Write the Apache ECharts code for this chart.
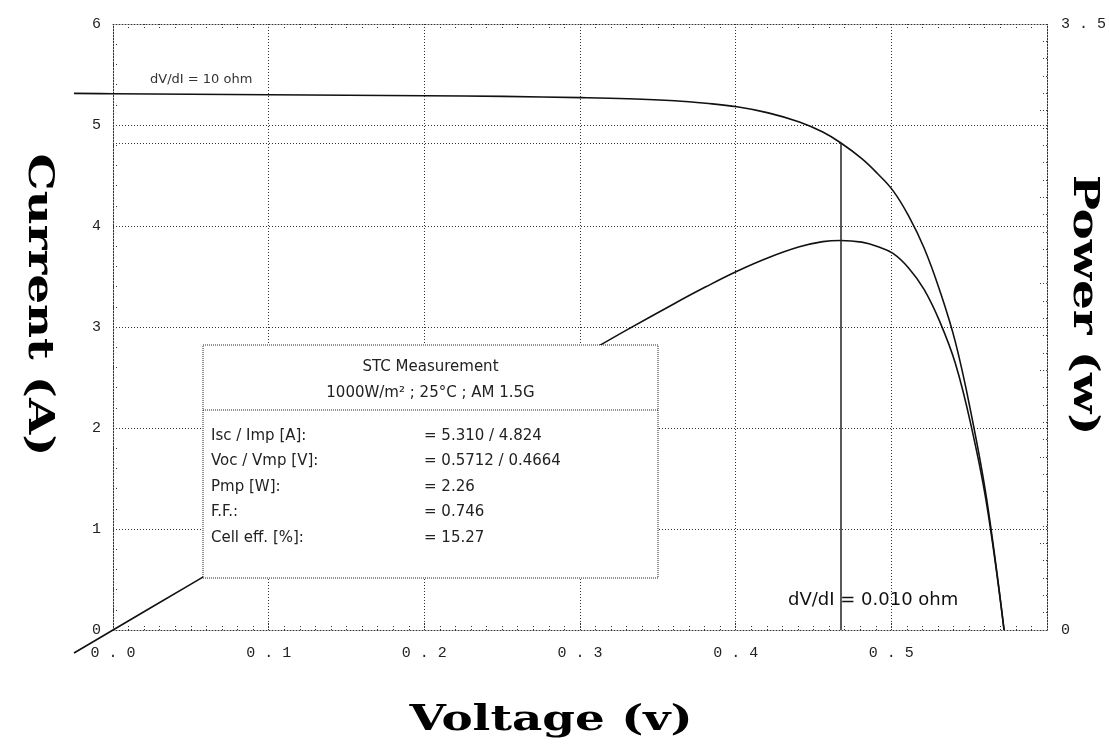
<!DOCTYPE html>
<html>
<head>
<meta charset="utf-8">
<script src="https://cdn.jsdelivr.net/npm/echarts@6/dist/echarts.min.js"></script>
<style>
html, body { margin: 0; background: #fff; }
#chart { width: 1109px; height: 750px; }
</style>
</head>
<body>
<div id="chart"></div>
<script>
// (V, A, W)
const voltage = [-0.025, 0, 0.05, 0.1, 0.15, 0.2, 0.25, 0.3, 0.33, 0.36, 0.38, 0.4, 0.42, 0.44, 0.455, 0.4664, 0.48, 0.49, 0.5, 0.51, 0.52, 0.53, 0.54, 0.55, 0.56, 0.5712]
const current = [5.313, 5.31, 5.305, 5.3, 5.295, 5.289, 5.283, 5.271, 5.26, 5.24, 5.215, 5.18, 5.12, 5.03, 4.93, 4.824, 4.667, 4.52, 4.35, 4.1, 3.78, 3.36, 2.85, 2.15, 1.3, 0]
const power = [-0.133, 0, 0.265, 0.53, 0.794, 1.058, 1.321, 1.581, 1.736, 1.886, 1.982, 2.072, 2.15, 2.213, 2.243, 2.25, 2.24, 2.215, 2.175, 2.091, 1.966, 1.781, 1.539, 1.183, 0.728, 0]

const vmp = 0.4664
const imp = 4.824

const boxHeader = ['STC Measurement', '1000W/m\u00b2 ; 25\u00b0C ; AM 1.5G']
const boxLabels = ['Isc / Imp [A]:', 'Voc / Vmp [V]:', 'Pmp [W]:', 'F.F.:', 'Cell eff. [%]:']
const boxValues = ['= 5.310 / 4.824', '= 0.5712 / 0.4664', '= 2.26', '= 0.746', '= 15.27']

const spaced = s => s.split('').join(' ')
const monoFont = 'Liberation Mono'
const boxFont = '15px "DejaVu Sans"'
const titleFont = 'bold 36px "DejaVu Serif"'
const dotted = { color: '#333', type: [1, 2], width: 1 }

const ivData = voltage.map((v, i) => [v, current[i]])
const pvData = voltage.map((v, i) => [v, power[i]])

// frame grid: 0..0.6 V, 0..6 A, 0..3.5 W
const gLeft = 113
const gRight = 60
const gTop = 24
const gBottom = 120
const pxPerVolt = (1109 - gLeft - gRight) / 0.6
const pxPerWatt = (750 - gTop - gBottom) / 3.5
// data grid: same scale, a little room left of 0 V and below 0 W so the curves run past the frame
const vStart = -0.025
const wStart = -0.5

const boxX = 203
const boxY = 345
const boxW = 455
const boxH = 233

const graphics = [
    {
        type: 'rect',
        z: 100,
        shape: { x: boxX, y: boxY, width: boxW, height: boxH },
        style: { fill: '#fff', stroke: '#222', lineWidth: 1, lineDash: [1, 1] },
    },
    {
        type: 'line',
        z: 101,
        shape: { x1: boxX, y1: boxY + 65, x2: boxX + boxW, y2: boxY + 65 },
        style: { stroke: '#222', lineWidth: 1, lineDash: [1, 1] },
    },
]
boxHeader.forEach((t, i) => {
    graphics.push({
        type: 'text',
        z: 101,
        x: boxX + boxW / 2,
        y: boxY + 22 + i * 26,
        style: { text: t, font: boxFont, fill: '#222', align: 'center', verticalAlign: 'middle' },
    })
})
boxLabels.forEach((t, i) => {
    const y = boxY + 91 + i * 25.5
    graphics.push({
        type: 'text',
        z: 101,
        x: boxX + 8,
        y,
        style: { text: t, font: boxFont, fill: '#222', verticalAlign: 'middle' },
    })
    graphics.push({
        type: 'text',
        z: 101,
        x: boxX + 221,
        y,
        style: { text: boxValues[i], font: boxFont, fill: '#222', verticalAlign: 'middle' },
    })
})
// free labels and axis titles
graphics.push(
    {
        type: 'text', z: 50, x: 150, y: 80,
        style: { text: 'dV/dI = 10 ohm', font: '13px "DejaVu Sans"', fill: '#333', verticalAlign: 'middle' },
    },
    {
        type: 'text', z: 50, x: 788, y: 600,
        style: { text: 'dV/dI = 0.010 ohm', font: '18px "DejaVu Sans"', fill: '#111', verticalAlign: 'middle' },
    },
    {
        type: 'text', x: 38, y: 305, rotation: -Math.PI / 2, scaleX: 1.3,
        style: { text: 'Current (A)', font: titleFont, fill: '#000', align: 'center', verticalAlign: 'middle' },
    },
    {
        type: 'text', x: 1083, y: 305, rotation: -Math.PI / 2, scaleX: 1.3,
        style: { text: 'Power (w)', font: titleFont, fill: '#000', align: 'center', verticalAlign: 'middle' },
    },
    {
        type: 'text', x: 551, y: 721, scaleX: 1.3,
        style: { text: 'Voltage (v)', font: titleFont, fill: '#000', align: 'center', verticalAlign: 'middle' },
    }
)

const frameTicks = {
    axisLine: { show: true, onZero: false, lineStyle: dotted },
    axisTick: { show: true, inside: true, length: 8, lineStyle: dotted },
}

const curveStyle = {
    type: 'line',
    xAxisIndex: 2,
    showSymbol: false,
    smooth: 0.4,
    lineStyle: { color: '#111', width: 1.6 },
}

const option = {
    animation: false,
    backgroundColor: '#fff',
    grid: [
        { left: gLeft, right: gRight, top: gTop, bottom: gBottom },
        {
            left: gLeft + vStart * pxPerVolt,
            right: gRight,
            top: gTop,
            bottom: gBottom + wStart * pxPerWatt,
        },
    ],
    xAxis: [
        {
            type: 'value',
            gridIndex: 0,
            min: 0,
            max: 0.6,
            interval: 0.1,
            position: 'bottom',
            ...frameTicks,
            minorTick: { show: true, splitNumber: 10, length: 5, lineStyle: dotted },
            splitLine: { show: true, lineStyle: dotted },
            axisLabel: {
                margin: 16,
                fontFamily: monoFont,
                fontSize: 15,
                color: '#222',
                formatter: v => (v <= 0.5 ? spaced(v.toFixed(1)) : ''),
            },
        },
        {
            type: 'value',
            gridIndex: 0,
            min: 0,
            max: 0.6,
            interval: 0.1,
            position: 'top',
            ...frameTicks,
            minorTick: { show: true, splitNumber: 10, length: 5, lineStyle: dotted },
            splitLine: { show: false },
            axisLabel: { show: false },
        },
        { type: 'value', gridIndex: 1, min: vStart, max: 0.6, show: false },
    ],
    yAxis: [
        {
            type: 'value',
            gridIndex: 0,
            min: 0,
            max: 6,
            interval: 1,
            position: 'left',
            ...frameTicks,
            minorTick: { show: true, splitNumber: 5, length: 5, lineStyle: dotted },
            splitLine: { show: true, lineStyle: dotted },
            axisLabel: { margin: 12, fontFamily: monoFont, fontSize: 15, color: '#222' },
        },
        {
            type: 'value',
            gridIndex: 0,
            min: 0,
            max: 3.5,
            interval: 0.5,
            position: 'right',
            ...frameTicks,
            minorTick: { show: true, splitNumber: 5, length: 5, lineStyle: dotted },
            splitLine: { show: false },
            axisLabel: {
                margin: 14,
                fontFamily: monoFont,
                fontSize: 15,
                color: '#222',
                formatter: v => (v === 0 ? '0' : v === 3.5 ? spaced('3.5') : ''),
            },
        },
        { type: 'value', gridIndex: 1, min: (wStart * 6) / 3.5, max: 6, show: false },
        { type: 'value', gridIndex: 1, min: wStart, max: 3.5, show: false },
    ],
    series: [
        {
            ...curveStyle,
            name: 'Current',
            data: ivData,
            yAxisIndex: 2,
            markLine: {
                silent: true,
                symbol: 'none',
                label: { show: false },
                data: [
                    [
                        { coord: [vmp, 0], lineStyle: { color: '#222', width: 1.5, type: 'solid' } },
                        { coord: [vmp, imp] },
                    ],
                    [
                        { coord: [0, imp], lineStyle: dotted },
                        { coord: [vmp, imp] },
                    ],
                ],
            },
        },
        {
            ...curveStyle,
            name: 'Power',
            data: pvData,
            yAxisIndex: 3,
        },
    ],
    graphic: graphics,
}

const chart = echarts.init(document.getElementById('chart'))
chart.setOption(option)
</script>
</body>
</html>
